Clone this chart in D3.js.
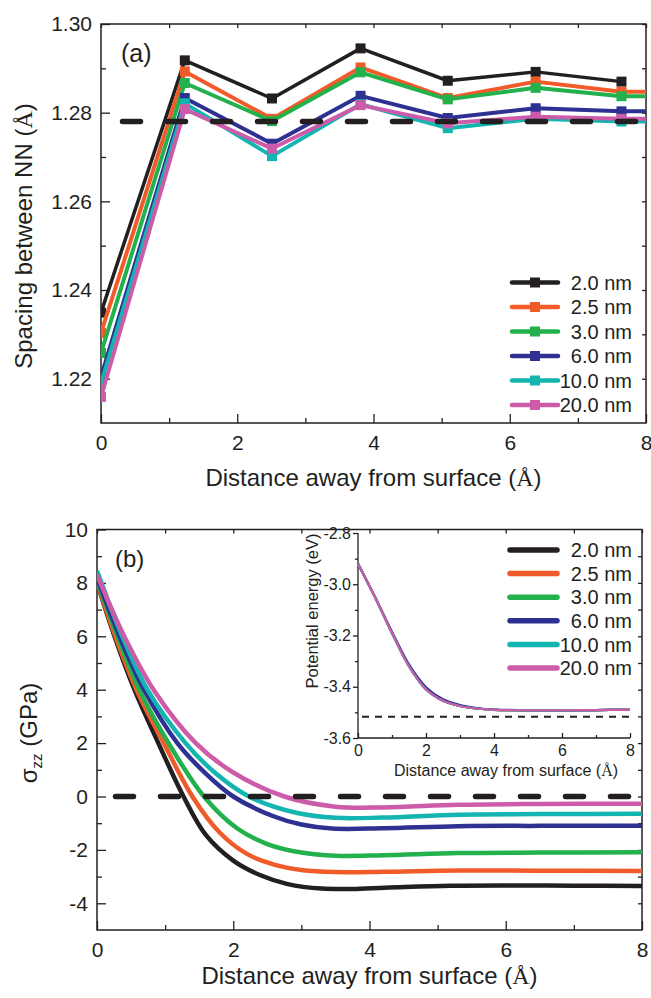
<!DOCTYPE html>
<html>
<head>
<meta charset="utf-8">
<script src="https://cdn.jsdelivr.net/npm/d3@7"></script>
<style>
  body { margin: 0; background: #fff; }
  text { font-family: "Liberation Sans", Arial, sans-serif; fill: #231f20; }
</style>
</head>
<body>
<div id="chart"></div>
<script>
////////////////////////////  Data  ////////////////////////////
const sizes = ["2.0 nm", "2.5 nm", "3.0 nm", "6.0 nm", "10.0 nm", "20.0 nm"];
const colors = ["#231f20", "#f15a29", "#22b14c", "#2e3192", "#13b5b1", "#cc5ca9"];

// (a) spacing between nearest neighbours, one value per layer
const layerX = [0, 1.23, 2.51, 3.81, 5.09, 6.38, 7.64, 8.92];
const spacing20 = [1.2349, 1.2918, 1.2832, 1.2945, 1.2872, 1.2892, 1.287];
const spacing25 = [1.2303, 1.2893, 1.2786, 1.2902, 1.2833, 1.287, 1.2847, 1.2848];
const spacing30 = [1.2258, 1.2867, 1.2781, 1.2891, 1.283, 1.2856, 1.2837, 1.2838];
const spacing60 = [1.2204, 1.2833, 1.273, 1.2838, 1.2788, 1.281, 1.2803, 1.2803];
const spacing100 = [1.2189, 1.2821, 1.2702, 1.2819, 1.2765, 1.2786, 1.278, 1.278];
const spacing200 = [1.2159, 1.2808, 1.2719, 1.2817, 1.2776, 1.2791, 1.2786, 1.2787];
const bulkSpacing = 1.278;

// (b) stress sigma_zz [distance, GPa]
const stress20 = [[0, 8.0], [0.25, 6.05], [0.55, 4.0], [0.9, 2.0], [1.27, 0], [1.6, -1.45], [2.0, -2.4], [2.4, -2.95], [2.8, -3.28], [3.3, -3.45], [3.8, -3.46], [4.4, -3.4], [5.2, -3.34], [6.2, -3.33], [7.0, -3.34], [8.0, -3.35]];
const stress25 = [[0, 8.05], [0.27, 6.0], [0.58, 4.0], [0.98, 2.0], [1.4, 0], [1.8, -1.35], [2.2, -2.15], [2.6, -2.55], [3.0, -2.75], [3.5, -2.83], [4.2, -2.82], [5.3, -2.77], [6.5, -2.78], [8.0, -2.79]];
const stress30 = [[0, 8.1], [0.3, 6.0], [0.62, 4.0], [1.05, 2.0], [1.57, 0], [2.06, -1.2], [2.5, -1.78], [3.0, -2.1], [3.5, -2.22], [4.2, -2.2], [5.3, -2.12], [6.5, -2.1], [8.0, -2.09]];
const stress60 = [[0, 8.2], [0.33, 6.0], [0.69, 4.0], [1.18, 2.0], [1.6, 0.85], [2.0, 0], [2.6, -0.75], [3.0, -1.05], [3.45, -1.2], [4.2, -1.19], [5.3, -1.11], [6.5, -1.1], [8.0, -1.1]];
const stress100 = [[0, 8.45], [0.37, 6.0], [0.74, 4.0], [1.3, 2.0], [1.75, 0.85], [2.23, 0], [2.94, -0.62], [3.5, -0.8], [4.2, -0.79], [5.3, -0.68], [6.5, -0.66], [8.0, -0.65]];
const stress200 = [[0, 8.3], [0.4, 6.0], [0.83, 4.0], [1.45, 2.0], [2.0, 0.9], [2.75, 0], [3.5, -0.38], [4.2, -0.41], [5.3, -0.31], [6.5, -0.28], [8.0, -0.27]];

// inset: potential energy (eV), curves lie on top of each other
const peX = [0, 0.5, 1, 1.5, 2, 2.5, 3, 3.5, 4, 5, 6, 7, 8];
const peCommon = [-2.92, -3.05, -3.19, -3.32, -3.41, -3.455, -3.475, -3.485, -3.49, -3.492, -3.492, -3.491, -3.49];
const peBlue = [-2.92, -3.05, -3.185, -3.313, -3.402, -3.449, -3.471, -3.483, -3.489, -3.491, -3.492, -3.491, -3.49];
const peBulk = -3.517;

const xTicks = [0, 2, 4, 6, 8];
const xMinor = [1, 3, 5, 7];
const yTicksA = [1.22, 1.24, 1.26, 1.28, 1.30];
const yMinorA = [1.23, 1.25, 1.27, 1.29];
const yTicksB = [-4, -2, 0, 2, 4, 6, 8, 10];
const yMinorB = [-3, -1, 1, 3, 5, 7, 9];
const yTicksC = [-3.6, -3.4, -3.2, -3.0, -2.8];
const yMinorC = [-3.5, -3.3, -3.1, -2.9];

const spacingSeries = [spacing20, spacing25, spacing30, spacing60, spacing100, spacing200];
const stressSeries = [stress20, stress25, stress30, stress60, stress100, stress200];
const peSeries = [peCommon, peCommon, peCommon, peBlue, peCommon, peCommon];

////////////////////////////  Init  ////////////////////////////
const width = 651;
const height = 998;
const ink = "#231f20";
const font = "Liberation Sans, Arial, sans-serif";

const svg = d3.select("#chart").append("svg")
  .attr("width", width).attr("height", height);

const boxA = { left: 101, right: 646, top: 24, bottom: 423 };
const boxB = { left: 97, right: 642, top: 529.5, bottom: 930 };
const boxC = { left: 358, right: 630, top: 533, bottom: 738 };

const xA = d3.scaleLinear().domain([0, 8]).range([boxA.left, boxA.right]);
const yA = d3.scaleLinear().domain([1.21, 1.30]).range([boxA.bottom, boxA.top]);
const xB = d3.scaleLinear().domain([0, 8]).range([boxB.left, boxB.right]);
const yB = d3.scaleLinear().domain([-5, 10]).range([boxB.bottom, boxB.top]);
const xC = d3.scaleLinear().domain([0, 8]).range([boxC.left, boxC.right]);
const yC = d3.scaleLinear().domain([-3.6, -2.8]).range([boxC.bottom, boxC.top]);

function tidy(g, size) {
  g.select(".domain").remove();
  g.attr("font-size", size).attr("font-family", font).style("color", ink);
  g.selectAll(".tick line").attr("stroke-width", 1.3);
}

// framed panel with inward ticks on all four sides
function framePanel(box, x, y, yMajor, yMinor, yFmt, yAll) {
  const g = svg.append("g");
  g.append("g").attr("transform", `translate(0,${box.bottom})`)
    .call(d3.axisBottom(x).tickValues(xTicks).tickSize(-9).tickPadding(12).tickFormat(d3.format("d")))
    .call((s) => tidy(s, 21));
  g.append("g").attr("transform", `translate(0,${box.bottom})`)
    .call(d3.axisBottom(x).tickValues(xMinor).tickSize(-5).tickFormat(""))
    .call((s) => tidy(s, 21));
  g.append("g").attr("transform", `translate(${box.left},0)`)
    .call(d3.axisLeft(y).tickValues(yMajor).tickSize(-9).tickPadding(9).tickFormat(yFmt))
    .call((s) => tidy(s, 21));
  g.append("g").attr("transform", `translate(${box.left},0)`)
    .call(d3.axisLeft(y).tickValues(yMinor).tickSize(-5).tickFormat(""))
    .call((s) => tidy(s, 21));
  g.append("g").attr("transform", `translate(0,${box.top})`)
    .call(d3.axisTop(x).tickValues(xTicks.concat(xMinor)).tickSize(-4).tickFormat(""))
    .call((s) => tidy(s, 21));
  g.append("g").attr("transform", `translate(${box.right},0)`)
    .call(d3.axisRight(y).tickValues(yAll).tickSize(-4).tickFormat(""))
    .call((s) => tidy(s, 21));
  g.append("rect")
    .attr("x", box.left).attr("y", box.top)
    .attr("width", box.right - box.left).attr("height", box.bottom - box.top)
    .attr("fill", "none").attr("stroke", ink).attr("stroke-width", 1.5);
}

function clip(id, box) {
  svg.append("clipPath").attr("id", id).append("rect")
    .attr("x", box.left).attr("y", box.top)
    .attr("width", box.right - box.left).attr("height", box.bottom - box.top);
}

// axis title with a serif angstrom sign
function titleX(x, y, size) {
  const t = svg.append("text").attr("x", x).attr("y", y)
    .attr("text-anchor", "middle").attr("font-size", size)
    .text("Distance away from surface (");
  t.append("tspan").attr("font-family", "Liberation Serif, serif").text("\u00C5");
  t.append("tspan").text(")");
}

////////////////////////////  Panel (a)  ////////////////////////////
clip("clipA", boxA);
framePanel(boxA, xA, yA, yTicksA, yMinorA, d3.format(".2f"), yTicksA.concat(yMinorA));

const lineA = d3.line().x((d, i) => xA(layerX[i])).y((d) => yA(d));
const gA = svg.append("g").attr("clip-path", "url(#clipA)");

spacingSeries.forEach((vals, k) => {
  gA.append("path")
    .attr("d", lineA(vals))
    .attr("fill", "none")
    .attr("stroke", colors[k])
    .attr("stroke-width", k === 0 ? 3.5 : 4)
    .attr("stroke-linejoin", "round");
  gA.selectAll(null)
    .data(vals)
    .enter()
    .append("rect")
    .attr("x", (d, i) => xA(layerX[i]) - 5)
    .attr("y", (d) => yA(d) - 5)
    .attr("width", 10)
    .attr("height", 10)
    .attr("fill", colors[k]);
});

gA.append("line")
  .attr("x1", xA(0)).attr("x2", xA(8))
  .attr("y1", yA(bulkSpacing)).attr("y2", yA(bulkSpacing))
  .attr("stroke", ink).attr("stroke-width", 5.5)
  .attr("stroke-linecap", "round")
  .attr("stroke-dasharray", "18,27").attr("stroke-dashoffset", 23.5);

svg.append("text").attr("x", 121).attr("y", 62).attr("font-size", 25).text("(a)");

const yTitleA = svg.append("text")
  .attr("transform", "translate(32,236) rotate(-90)")
  .attr("text-anchor", "middle").attr("font-size", 24)
  .text("Spacing between NN (");
yTitleA.append("tspan").attr("font-family", "Liberation Serif, serif").text("\u00C5");
yTitleA.append("tspan").text(")");
titleX(373.5, 486, 24);

// legend (a)
sizes.forEach((s, k) => {
  const ly = 282.5 + 24.5 * k;
  svg.append("line").attr("x1", 512).attr("x2", 558).attr("y1", ly).attr("y2", ly)
    .attr("stroke", colors[k]).attr("stroke-width", 4.5).attr("stroke-linecap", "round");
  svg.append("rect").attr("x", 530).attr("y", ly - 5).attr("width", 10).attr("height", 10)
    .attr("fill", colors[k]);
  svg.append("text").attr("x", 632).attr("y", ly).attr("dy", "0.36em")
    .attr("text-anchor", "end").attr("font-size", 20).text(s);
});

////////////////////////////  Panel (b)  ////////////////////////////
clip("clipB", boxB);
framePanel(boxB, xB, yB, yTicksB, yMinorB, (d) => String(d), d3.range(-4, 10));

const lineB = d3.line().x((d) => xB(d[0])).y((d) => yB(d[1])).curve(d3.curveCatmullRom.alpha(0.5));
const gB = svg.append("g").attr("clip-path", "url(#clipB)");

stressSeries.forEach((vals, k) => {
  gB.append("path")
    .attr("d", lineB(vals))
    .attr("fill", "none")
    .attr("stroke", colors[k])
    .attr("stroke-width", 4.5);
});

gB.append("line")
  .attr("x1", xB(0)).attr("x2", xB(8))
  .attr("y1", yB(0)).attr("y2", yB(0))
  .attr("stroke", ink).attr("stroke-width", 5.5)
  .attr("stroke-linecap", "round")
  .attr("stroke-dasharray", "18,27").attr("stroke-dashoffset", 26.5);

svg.append("text").attr("x", 115).attr("y", 567).attr("font-size", 24).text("(b)");

const yTitleB = svg.append("text")
  .attr("transform", "translate(37,733) rotate(-90)")
  .attr("text-anchor", "middle").attr("font-size", 24)
  .text("\u03C3");
yTitleB.append("tspan").attr("font-size", 15).attr("dy", 5).text("zz");
yTitleB.append("tspan").attr("dy", -5).text(" (GPa)");
titleX(369.5, 984, 24);

////////////////////////////  Inset  ////////////////////////////
const gC = svg.append("g");
gC.append("g").attr("transform", `translate(0,${boxC.bottom})`)
  .call(d3.axisBottom(xC).tickValues(xTicks).tickSize(-5).tickPadding(7).tickFormat(d3.format("d")))
  .call((s) => tidy(s, 16));
gC.append("g").attr("transform", `translate(0,${boxC.bottom})`)
  .call(d3.axisBottom(xC).tickValues(xMinor).tickSize(-3).tickFormat(""))
  .call((s) => tidy(s, 16));
gC.append("g").attr("transform", `translate(${boxC.left},0)`)
  .call(d3.axisLeft(yC).tickValues(yTicksC).tickSize(5).tickPadding(2).tickFormat((d) => d.toFixed(1)))
  .call((s) => tidy(s, 16));
gC.append("g").attr("transform", `translate(${boxC.left},0)`)
  .call(d3.axisLeft(yC).tickValues(yMinorC).tickSize(3).tickFormat(""))
  .call((s) => tidy(s, 16));
gC.append("path")
  .attr("d", `M${boxC.left},${boxC.top}V${boxC.bottom}H${boxC.right}`)
  .attr("fill", "none").attr("stroke", ink).attr("stroke-width", 1.3);

const lineC = d3.line().x((d, i) => xC(peX[i])).y((d) => yC(d)).curve(d3.curveCatmullRom.alpha(0.5));
peSeries.forEach((vals, k) => {
  gC.append("path")
    .attr("d", lineC(vals))
    .attr("fill", "none")
    .attr("stroke", colors[k])
    .attr("stroke-width", 2.2);
});

gC.append("line")
  .attr("x1", xC(0)).attr("x2", xC(8))
  .attr("y1", yC(peBulk)).attr("y2", yC(peBulk))
  .attr("stroke", ink).attr("stroke-width", 2.2)
  .attr("stroke-dasharray", "7,6").attr("stroke-dashoffset", 9);

svg.append("text")
  .attr("transform", "translate(317.5,611) rotate(-90)")
  .attr("text-anchor", "middle").attr("font-size", 16.5)
  .text("Potential energy (eV)");
titleX(506, 776, 16);

// legend (inset)
sizes.forEach((s, k) => {
  const ly = 550 + 23.6 * k;
  svg.append("line").attr("x1", 510).attr("x2", 557).attr("y1", ly).attr("y2", ly)
    .attr("stroke", colors[k]).attr("stroke-width", 5.5).attr("stroke-linecap", "round");
  svg.append("text").attr("x", 632).attr("y", ly).attr("dy", "0.36em")
    .attr("text-anchor", "end").attr("font-size", 20).text(s);
});
</script>
</body>
</html>
